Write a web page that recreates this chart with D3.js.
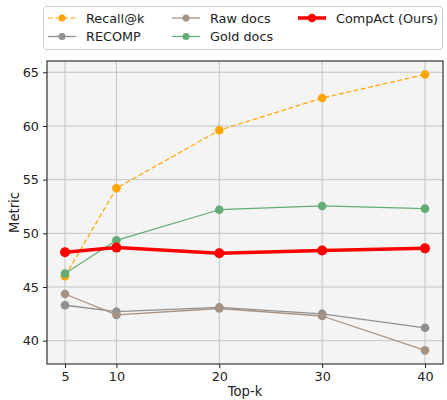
<!DOCTYPE html>
<html><head><meta charset="utf-8">
<script src="https://cdn.jsdelivr.net/npm/d3@7"></script>
<style>body{margin:0;background:#fff;}svg{display:block;font-family:"DejaVu Sans",sans-serif;}</style>
</head><body><svg id="c" width="447" height="400"></svg>
<script>
const topK = [5, 10, 20, 30, 40];
const recallAtK = [46.0, 54.2, 59.6, 62.6, 64.8];
const recomp = [43.3, 42.7, 43.1, 42.5, 41.2];
const rawDocs = [44.35, 42.4, 43.0, 42.3, 39.1];
const goldDocs = [46.25, 49.35, 52.2, 52.55, 52.3];
const compAct = [48.24, 48.67, 48.14, 48.4, 48.6];
const xTicks = [5, 10, 20, 30, 40];
const yTicks = [40, 45, 50, 55, 60, 65];
const seriesNames = ["Recall@k", "RECOMP", "Raw docs", "Gold docs", "CompAct (Ours)"];

const series = [
  {name: seriesNames[0], values: recallAtK, color: "#ffa500", width: 1.2, dash: "5,2.5", r: 4.3},
  {name: seriesNames[1], values: recomp, color: "#8f8f8f", width: 1.3, dash: null, r: 4.3},
  {name: seriesNames[2], values: rawDocs, color: "#a69283", width: 1.3, dash: null, r: 4.3},
  {name: seriesNames[3], values: goldDocs, color: "#62ac76", width: 1.2, dash: null, r: 4.3},
  {name: seriesNames[4], values: compAct, color: "#ff0000", width: 3.5, dash: null, r: 5}
];

const svg = d3.select("#c");
const L = 47, R = 443, T = 61, B = 364;
const x = d3.scaleLinear().domain([3.25, 41.75]).range([L, R]);
const y = d3.scaleLinear().domain([37.83, 66.05]).range([B, T]);

svg.append("rect").attr("x", L).attr("y", T).attr("width", R - L).attr("height", B - T).attr("fill", "#f4f4f4");

// grid
const g = svg.append("g");
g.selectAll("line.gx").data(xTicks).join("line")
  .attr("x1", d => x(d)).attr("x2", d => x(d)).attr("y1", T).attr("y2", B)
  .attr("stroke", "#c4c4c4").attr("stroke-width", 1);
g.selectAll("line.gy").data(yTicks).join("line")
  .attr("y1", d => y(d)).attr("y2", d => y(d)).attr("x1", L).attr("x2", R)
  .attr("stroke", "#c4c4c4").attr("stroke-width", 1);

// axes
const xAxis = d3.axisBottom(x).tickValues(xTicks).tickSize(4).tickPadding(4);
const yAxis = d3.axisLeft(y).tickValues(yTicks).tickSize(4).tickPadding(4);
const gx = svg.append("g").attr("transform", `translate(0,${B})`).call(xAxis);
const gy = svg.append("g").attr("transform", `translate(${L},0)`).call(yAxis);
[gx, gy].forEach(a => {
  a.select(".domain").remove();
  a.selectAll("text").attr("font-size", 12.8).attr("fill", "#222").attr("font-family", "DejaVu Sans");
  a.selectAll("line").attr("stroke", "#222");
});

// lines
const line = d3.line().x((d, i) => x(topK[i])).y(d => y(d));
series.forEach(s => {
  const sg = svg.append("g");
  sg.append("path").datum(s.values).attr("d", line).attr("fill", "none")
    .attr("stroke", s.color).attr("stroke-width", s.width)
    .attr("stroke-dasharray", s.dash).attr("stroke-linejoin", "round");
  sg.selectAll("circle").data(s.values).join("circle")
    .attr("cx", (d, i) => x(topK[i])).attr("cy", d => y(d)).attr("r", s.r).attr("fill", s.color);
});

// frame
svg.append("rect").attr("x", L).attr("y", T).attr("width", R - L).attr("height", B - T)
  .attr("fill", "none").attr("stroke", "#333").attr("stroke-width", 1.2);

// labels
svg.append("text").attr("x", (L + R) / 2).attr("y", 396).attr("text-anchor", "middle")
  .attr("font-size", 13.2).attr("fill", "#222").text("Top-k");
svg.append("text").attr("transform", `translate(19,${(T + B) / 2}) rotate(-90)`).attr("text-anchor", "middle")
  .attr("font-size", 13.2).attr("fill", "#222").text("Metric");

// legend
const lg = svg.append("g");
lg.append("rect").attr("x", 43.5).attr("y", 6.5).attr("width", 399).attr("height", 43).attr("rx", 3)
  .attr("fill", "#fff").attr("stroke", "#cccccc");
const colX = [48, 172, 298];
const rowY = [18, 36.5];
const pos = [[0, 0], [0, 1], [1, 0], [1, 1], [2, 0]];
series.forEach((s, i) => {
  const [c, r] = pos[i];
  const x0 = colX[c], yy = rowY[r];
  lg.append("line").attr("x1", x0).attr("x2", x0 + 28).attr("y1", yy).attr("y2", yy)
    .attr("stroke", s.color).attr("stroke-width", s.width).attr("stroke-dasharray", s.dash);
  lg.append("circle").attr("cx", x0 + 14).attr("cy", yy).attr("r", s.r - 0.8).attr("fill", s.color);
  lg.append("text").attr("x", x0 + 38).attr("y", yy + 4.5).attr("font-size", 12.8).attr("fill", "#222").text(s.name);
});
</script></body></html>
